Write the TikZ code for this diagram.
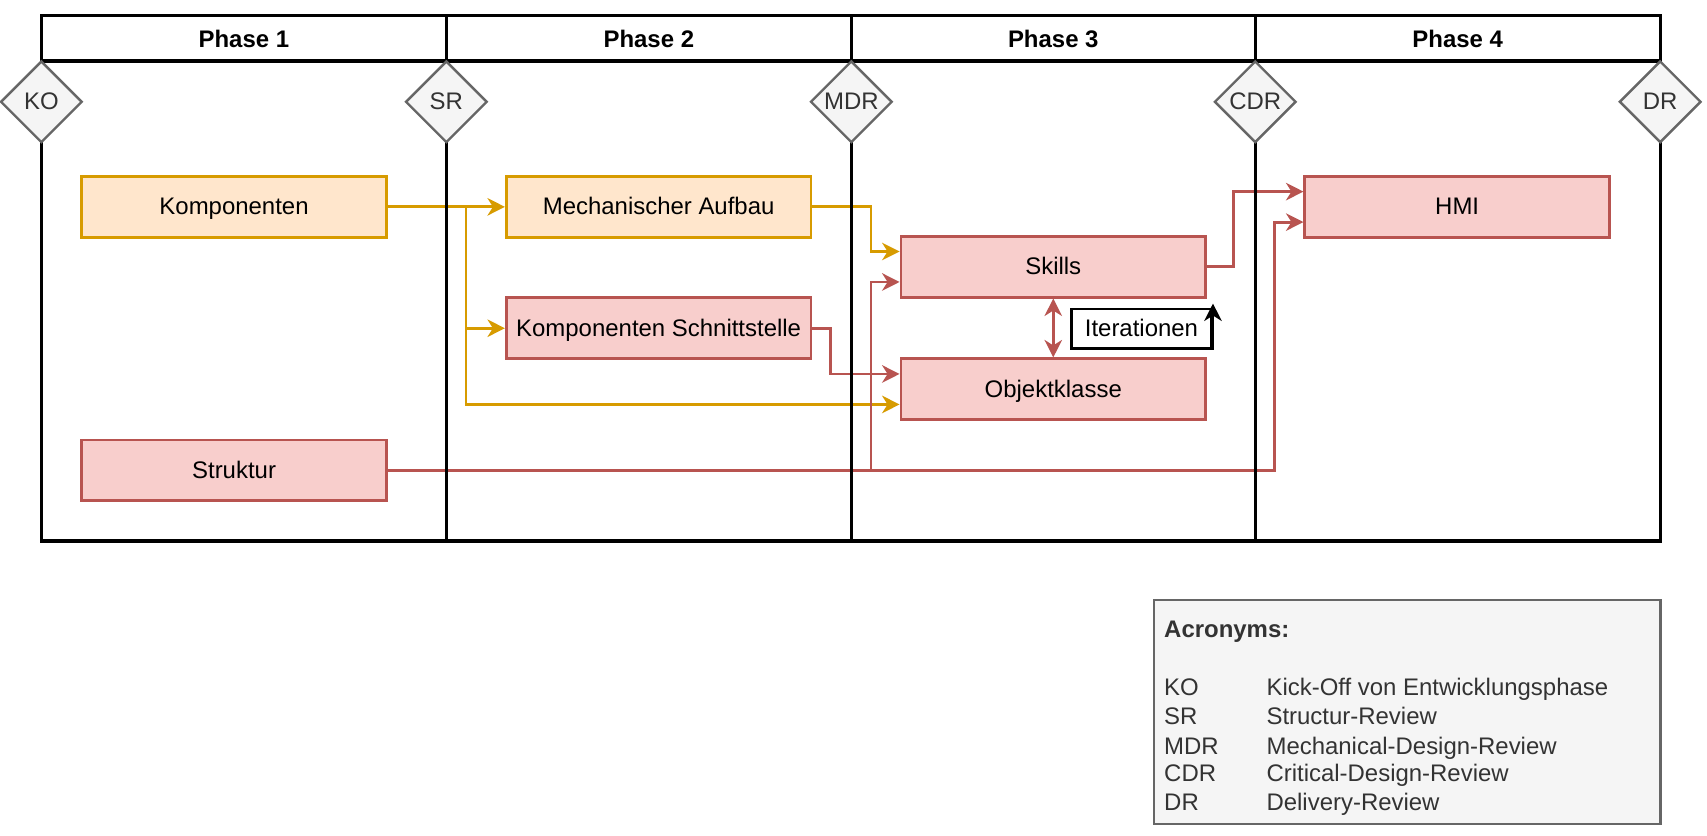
\documentclass[tikz,border=0pt]{standalone}
\usepackage{fontspec}
\setmainfont{Liberation Sans}
\usetikzlibrary{shapes.geometric,arrows.meta}
\definecolor{ostroke}{HTML}{D79B00}
\definecolor{ofill}{HTML}{FFE6CC}
\definecolor{rstroke}{HTML}{B85450}
\definecolor{rfill}{HTML}{F8CECC}
\definecolor{gstroke}{HTML}{666666}
\definecolor{gfill}{HTML}{F5F5F5}
\definecolor{gtext}{HTML}{333333}
\pgfdeclarelayer{bg}
\pgfdeclarelayer{conn}
\pgfdeclarelayer{pool}
\pgfsetlayers{bg,conn,pool,main}
\tikzset{
  every node/.style={font=\fontsize{11}{13}\selectfont, inner sep=0pt, text height=9.5pt, text depth=2.3pt},
  tip/.tip={Stealth[length=8pt,width=8pt,inset=2.5pt]},
  obox/.style={draw=ostroke, fill=ofill, line width=1.2pt, minimum width=140pt, minimum height=28pt},
  rbox/.style={draw=rstroke, fill=rfill, line width=1.2pt, minimum width=140pt, minimum height=28pt},
  gate/.style={diamond, aspect=1, draw=gstroke, fill=gfill, line width=1.1pt, minimum width=37.5pt, minimum height=37.5pt, text=gtext},
  oline/.style={draw=ostroke, line width=1.3pt, -tip},
  rline/.style={draw=rstroke, line width=1.3pt, -tip},
  poolline/.style={draw=black, line width=1.5pt},
  phase/.style={font=\fontsize{11}{13}\selectfont\bfseries},
  legtxt/.style={anchor=west, text=gtext},
}
\begin{document}
\begin{tikzpicture}[x=0.5pt,y=-0.5pt]
\begin{pgfonlayer}{bg}
\fill[white] (0,0) rectangle (1568,767);
\end{pgfonlayer}
\useasboundingbox (0,0) rectangle (1568,767);

% boxes
\node[obox] (komp) at (215,190) {Komponenten};
\node[obox] (mech) at (605,190) {Mechanischer Aufbau};
\node[rbox] (ks) at (605,301.5) {Komponenten Schnittstelle};
\node[rbox] (skills) at (967.5,245) {Skills};
\node[rbox] (obj) at (967.5,357.5) {Objektklasse};
\node[rbox] (struk) at (215,432) {Struktur};
\node[rbox] (hmi) at (1338.5,190) {HMI};
\node[draw=black, fill=white, line width=1.2pt, minimum width=64.5pt, minimum height=18pt] (iter) at (1048.5,302) {Iterationen};

% pool
\begin{pgfonlayer}{pool}
\coordinate (ptl) at (38,14);
\coordinate (pbr) at (1525,497);
\draw[poolline] (ptl) rectangle (pbr);
\draw[poolline] (38,56) -- (1525,56);
\foreach \x in {410,782,1153} \draw[poolline] (\x,14) -- (\x,497);
\end{pgfonlayer}
\node[phase] (p1) at (224,36) {Phase 1};
\node[phase] (p2) at (596,36) {Phase 2};
\node[phase] (p3) at (967.5,36) {Phase 3};
\node[phase] (p4) at (1339,36) {Phase 4};

% gates
\node[gate] (ko) at (38,93.5) {KO};
\node[gate] (sr) at (410,93.5) {SR};
\node[gate] (mdr) at (782,93.5) {MDR};
\node[gate] (cdr) at (1153,93.5) {CDR};
\node[gate] (dr) at (1525,93.5) {DR};

% junction columns
\coordinate (j1) at (428,0);
\coordinate (j2) at (800,0);
\coordinate (j4) at (763,0);
\coordinate (j5) at (1133,0);
\coordinate (j6) at (1171,0);

\begin{pgfonlayer}{conn}
\draw[oline] (komp.east) -- (mech.west);
\draw[oline] (komp.east) -- (komp.east -| j1) |- (ks.west);
\draw[oline] (komp.east) -- (komp.east -| j1) |- ([yshift=-7pt]obj.west);
\draw[oline] (mech.east) -- (mech.east -| j2) |- ([yshift=7pt]skills.west);
\draw[rline] (ks.east) -- (ks.east -| j4) |- ([yshift=7pt]obj.west);
\draw[rline] (struk.east) -- (struk.east -| j2) |- ([yshift=-7pt]skills.west);
\draw[rline] (struk.east) -- (struk.east -| j6) |- ([yshift=-7pt]hmi.west);
\draw[rline] (skills.east) -- (skills.east -| j5) |- ([yshift=7pt]hmi.west);
\draw[rline, tip-tip] (skills.south) -- (obj.north);
\end{pgfonlayer}
\draw[line width=1.3pt, -tip] (iter.south east) -- ([yshift=2pt]iter.north east);

% legend
\node[draw=gstroke, fill=gfill, line width=1.2pt, minimum width=232.5pt, minimum height=103pt] (legend) at (1292.5,654) {};
\node[legtxt, font=\fontsize{11}{13}\selectfont\bfseries] (lt) at (1069,578) {Acronyms:};
\node[legtxt] (a1) at (1069,632) {KO};
\node[legtxt] (b1) at (1163,632) {Kick-Off von Entwicklungsphase};
\node[legtxt] (a2) at (1069,658) {SR};
\node[legtxt] (b2) at (1163,658) {Structur-Review};
\node[legtxt] (a3) at (1069,686) {MDR};
\node[legtxt] (b3) at (1163,686) {Mechanical-Design-Review};
\node[legtxt] (a4) at (1069,711) {CDR};
\node[legtxt] (b4) at (1163,711) {Critical-Design-Review};
\node[legtxt] (a5) at (1069,737) {DR};
\node[legtxt] (b5) at (1163,737) {Delivery-Review};
\end{tikzpicture}
\end{document}
